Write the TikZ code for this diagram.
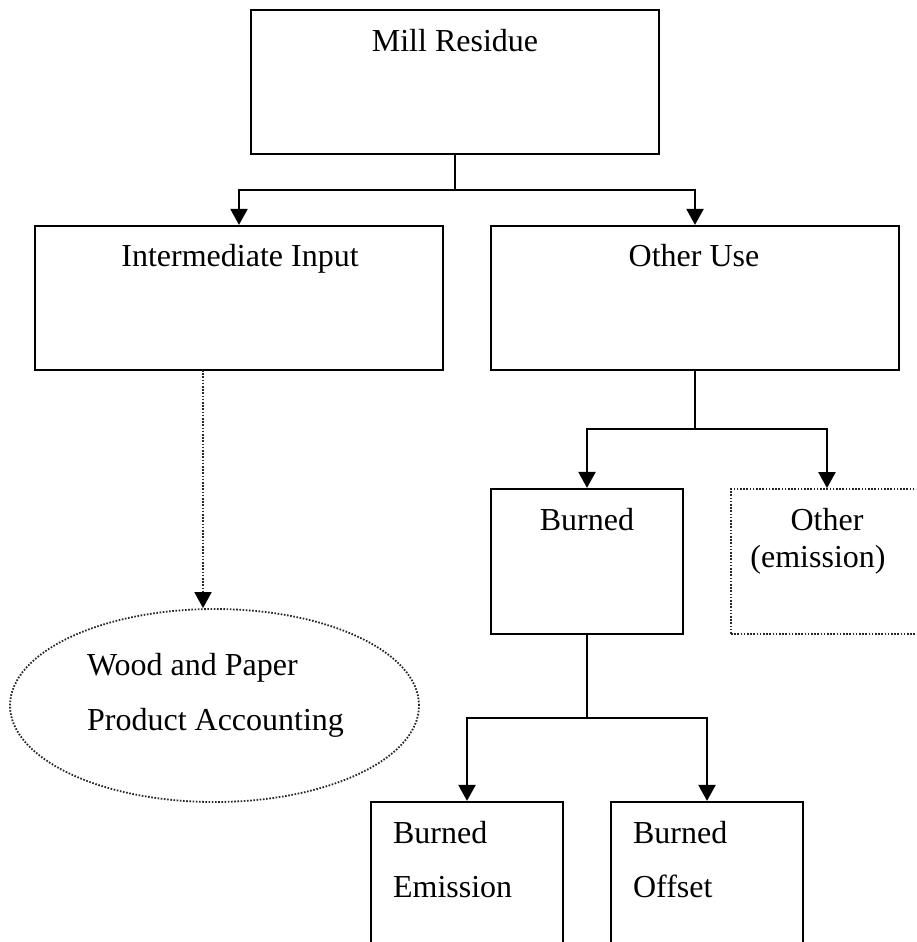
\documentclass[tikz,border=0pt]{standalone}
\usepackage{fontspec}
\setmainfont{Liberation Serif}
\usetikzlibrary{arrows.meta,shapes.geometric}
\begin{document}
\begin{tikzpicture}[x=1pt,y=-1pt,line width=2.2pt,
  box/.style={draw,rectangle,inner sep=0pt},
  dotbox/.style={draw=black!85,rectangle,inner sep=0pt,line width=1.8pt,dash pattern=on 1.6pt off 1.6pt},
  dotell/.style={draw=black!85,ellipse,inner sep=0pt,line width=1.8pt,dash pattern=on 1.6pt off 1.6pt},
  lbl/.style={inner sep=0pt,anchor=base,font=\fontsize{32}{38}\selectfont},
  lbll/.style={inner sep=0pt,anchor=base west,font=\fontsize{32}{38}\selectfont},
  arr/.style={-{Triangle[width=17pt,length=16pt]}},
  darr/.style={draw=black!85,line width=1.8pt,dash pattern=on 1.6pt off 1.6pt,-{Triangle[width=17pt,length=16pt,color=black,fill=black]}}]
\clip (0,0) rectangle (916,942);
\fill[white] (0,0) rectangle (916,942);
% boxes
\node[box,minimum width=408pt,minimum height=144pt] (mill) at (455,82) {};
\node[box,minimum width=408pt,minimum height=144pt] (ii) at (239,298) {};
\node[box,minimum width=408pt,minimum height=144pt] (ou) at (695,298) {};
\node[box,minimum width=192pt,minimum height=145pt] (burned) at (587,561.5) {};
\node[dotbox,minimum width=192pt,minimum height=145pt] (other) at (827,561.5) {};
\node[dotell,minimum width=409pt,minimum height=193pt] (ell) at (214.5,705.5) {};
\node[box,minimum width=192pt,minimum height=158pt] (be) at (467,881) {};
\node[box,minimum width=192pt,minimum height=158pt] (bo) at (707,881) {};
% texts
\node[lbl] (tmill) at (455,52) {Mill Residue};
\node[lbl] (tii) at (240,266) {Intermediate Input};
\node[lbl] (tou) at (694,266) {Other Use};
\node[lbl] (tb) at (587,530) {Burned};
\node[lbl] (to1) at (827,530) {Other};
\node[lbl] (to2) at (818,567) {(emission)};
\node[lbll] (tw1) at (86,675) {Wood and Paper};
\node[lbll] (tw2) at (86,730) {Product Accounting};
\node[lbll] (tbe1) at (392,843) {Burned};
\node[lbll] (tbe2) at (392,897) {Emission};
\node[lbll] (tbo1) at (632,843) {Burned};
\node[lbll] (tbo2) at (632,897) {Offset};
% connectors
\coordinate (j1) at (455,190);
\coordinate (j2) at (695,429);
\coordinate (j3) at (587,718);
\coordinate (dt) at (203,370);
\draw (mill.south) -- (j1);
\draw[arr] (j1) -| (ii.north);
\draw[arr] (j1) -| (ou.north);
\draw (ou.south) -- (j2);
\draw[arr] (j2) -| (burned.north);
\draw[arr] (j2) -| (other.north);
\draw (burned.south) -- (j3);
\draw[arr] (j3) -| (be.north);
\draw[arr] (j3) -| (bo.north);
\draw[darr] (dt) -- (dt |- ell.north);
\end{tikzpicture}
\end{document}
